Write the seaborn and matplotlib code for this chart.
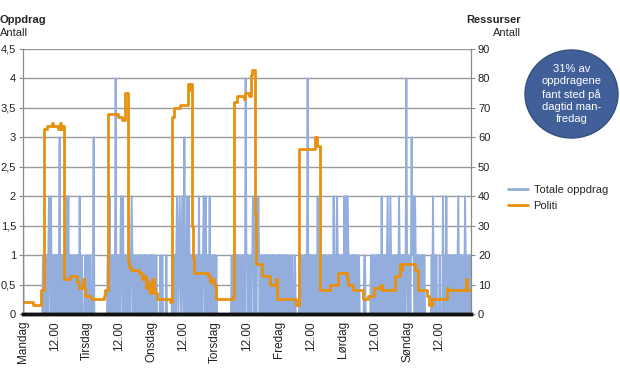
import numpy as np
import pandas as pd
import seaborn as sns
import matplotlib.pyplot as plt
from matplotlib.patches import Ellipse
from matplotlib.ticker import FuncFormatter

# Totale oppdrag: ett tegn per kvarter, fire per time (24 grupper per dag)
mandag = ("2000 0000 0000 0000 0000 0000 0000 0010 1010 1012 1020 0101 "
          "1011 1013 0101 1010 0120 2010 1001 0100 1010 0200 1000 0100")
tirsdag = ("1010 0100 0130 0000 0000 0000 0000 0001 1020 1010 1014 0101 "
           "1012 1020 1010 0101 1012 1010 1001 0101 1010 0101 1010 0101")
onsdag = ("1010 0100 1000 0010 0100 0001 0000 0000 1010 1012 1012 1012 "
          "1030 1020 1201 1010 0101 1010 2010 1012 1020 1010 2010 0101")
torsdag = ("1010 0000 0000 0000 0000 0000 0101 1010 1101 1010 0101 1041 "
           "1010 0101 1201 1201 1210 1010 0101 1010 1001 0101 1010 0101")
fredag = ("1010 1001 0101 1010 0100 1000 1000 0001 1010 0101 1014 0101 "
          "1010 0101 1020 1010 0101 1010 0101 1001 1020 1012 1010 0101")
lordag = ("1020 1202 1010 0101 1010 1001 1000 0000 1100 0000 0010 1010 "
          "0101 1010 1020 1010 1012 0102 1010 0101 1010 2101 1010 1014")
sondag = ("1010 1013 1210 2101 1010 0101 1010 0000 0000 0102 0010 1000 "
          "0100 0020 1002 0010 1010 0101 1010 1201 1010 0102 1010 0101")
dager = [mandag, tirsdag, onsdag, torsdag, fredag, lordag, sondag]

# Politi (ressurser): timer fra mandag 00.00 og antall
politi_timer = [0, 3.9, 6.9, 7.9, 8.9, 10.8, 11.1, 13.3, 13.9, 14.4, 14.9, 15.3,
                15.5, 17.8, 20.3, 21.0, 22.4, 22.8, 23.3, 25.5, 30.3, 30.8,
                31.8, 35.7, 37.0, 38.1, 38.4, 39.2, 39.6, 40.6, 43.5, 44.5,
                45.5, 46.2, 46.6, 47.2, 47.8, 48.4, 49.0, 49.5, 50.2, 55.2,
                55.8, 56.7, 58.8, 61.7, 62.3, 62.6, 63.3, 63.8, 64.3, 69.5,
                70.2, 70.6, 71.6, 72.2, 78.6, 79.2, 80.4, 82.9, 83.4, 84.6,
                85.6, 85.9, 86.9, 87.2, 89.8, 92.6, 94.9, 95.3, 102.5, 103.4,
                109.6, 110.3, 111.2, 115.1, 118.3, 121.4, 122.0, 123.8, 127.4,
                129.4, 131.6, 134.0, 134.8, 139.5, 141.3, 141.8, 142.3, 147.0,
                148.0, 151.5, 152.2, 153.2, 159.1, 159.5, 166.2, 166.6, 168]
politi_verdi = [4, 3, 8, 63, 64, 65, 64, 63, 65, 63, 64, 20,
                12, 13, 11, 9, 12, 9, 6, 5, 6, 8,
                68, 67, 66, 74, 75, 18, 16, 15, 14, 12,
                13, 9, 11, 8, 7, 12, 9, 7, 5, 4,
                67, 70, 71, 78, 76, 78, 30, 19, 14, 13,
                11, 12, 10, 5, 6, 72, 74, 73, 75, 74,
                81, 83, 34, 17, 13, 10, 12, 5, 3, 56,
                60, 57, 8, 10, 14, 12, 10, 8, 5,
                6, 9, 10, 8, 13, 17, 15, 17, 15,
                8, 6, 3, 5, 9, 8, 12, 8, 8]

dag_navn = ["Mandag", "Tirsdag", "Onsdag", "Torsdag", "Fredag", "Lørdag", "Søndag"]

oppdrag = [int(c) for d in dager for c in d.replace(" ", "")]
df_oppdrag = pd.DataFrame({"tid": np.arange(len(oppdrag)) * 0.25, "antall": oppdrag})
df_politi = pd.DataFrame({"tid": politi_timer, "antall": politi_verdi})

sns.set_style("white")
plt.rcParams['font.family'] = ['Liberation Sans', 'DejaVu Sans']

blaa = '#93AEDC'
oransje = '#E8900F'

fig = plt.figure(figsize=(6.2, 3.73), dpi=100)
ax = fig.add_axes([23 / 620, 59 / 373, 448 / 620, 265 / 373])
ax2 = ax.twinx()

sns.lineplot(data=df_oppdrag, x="tid", y="antall", ax=ax, color=blaa, lw=1.4)
sns.lineplot(data=df_politi, x="tid", y="antall", ax=ax2, color=oransje, lw=2.0,
             drawstyle='steps-post')

ax.set_xlim(0, 168)
ax.set_ylim(0, 4.5)
ax2.set_ylim(0, 90)
ax.set_yticks(np.arange(0, 4.51, 0.5))
ax2.set_yticks(np.arange(0, 91, 10))
ax.yaxis.set_major_formatter(FuncFormatter(lambda v, p: f"{v:g}".replace(".", ",")))
ax.grid(axis='y', color='#9a9a9a', lw=1)
ax.set_axisbelow(True)

ticks = np.arange(0, 168, 12)
labels = []
for d in dag_navn:
    labels += [d, "12.00"]
ax.set_xticks(ticks)
ax.set_xticklabels(labels, rotation=90, fontsize=8.5, color='#222222')

for a in (ax, ax2):
    a.set_xlabel("")
    a.set_ylabel("")
    a.spines['top'].set_visible(False)
    a.spines['left'].set_color('#8a8a8a')
    a.spines['right'].set_color('#8a8a8a')
    a.spines['bottom'].set_color('#111111')
    a.spines['bottom'].set_linewidth(2.5)
    a.tick_params(axis='y', labelsize=8, colors='#222222', length=3, width=0.8,
                  color='#8a8a8a', pad=2)
ax.tick_params(axis='x', length=3, color='#111111', pad=2)

ax2.set_zorder(ax.get_zorder() + 1)

fig.text(0.0, 1 - 20 / 373, "Oppdrag", fontsize=8, fontweight='bold', va='center', ha='left')
fig.text(0.0, 1 - 33 / 373, "Antall", fontsize=8, va='center', ha='left')
fig.text(521 / 620, 1 - 20 / 373, "Ressurser", fontsize=8, fontweight='bold', va='center', ha='right')
fig.text(521 / 620, 1 - 33 / 373, "Antall", fontsize=8, va='center', ha='right')

sirkel = Ellipse((571.5 / 620, 1 - 94 / 373), 93 / 620, 88 / 373, transform=fig.transFigure,
                 facecolor='#41609A', edgecolor='#34507F', lw=1)
fig.patches.append(sirkel)
fig.text(571.5 / 620, 1 - 94 / 373, "31% av\noppdragene\nfant sted på\ndagtid man-\nfredag",
         color='white', fontsize=8, ha='center', va='center', linespacing=1.3)

handles = [plt.Line2D([], [], color=blaa, lw=2), plt.Line2D([], [], color=oransje, lw=2)]
fig.legend(handles, ["Totale oppdrag", "Politi"], loc='center left',
           bbox_to_anchor=(498 / 620, 1 - 198 / 373), frameon=False, fontsize=8,
           handlelength=1.8, handletextpad=0.5, labelspacing=0.5)

fig.savefig("out.png", dpi=100)
